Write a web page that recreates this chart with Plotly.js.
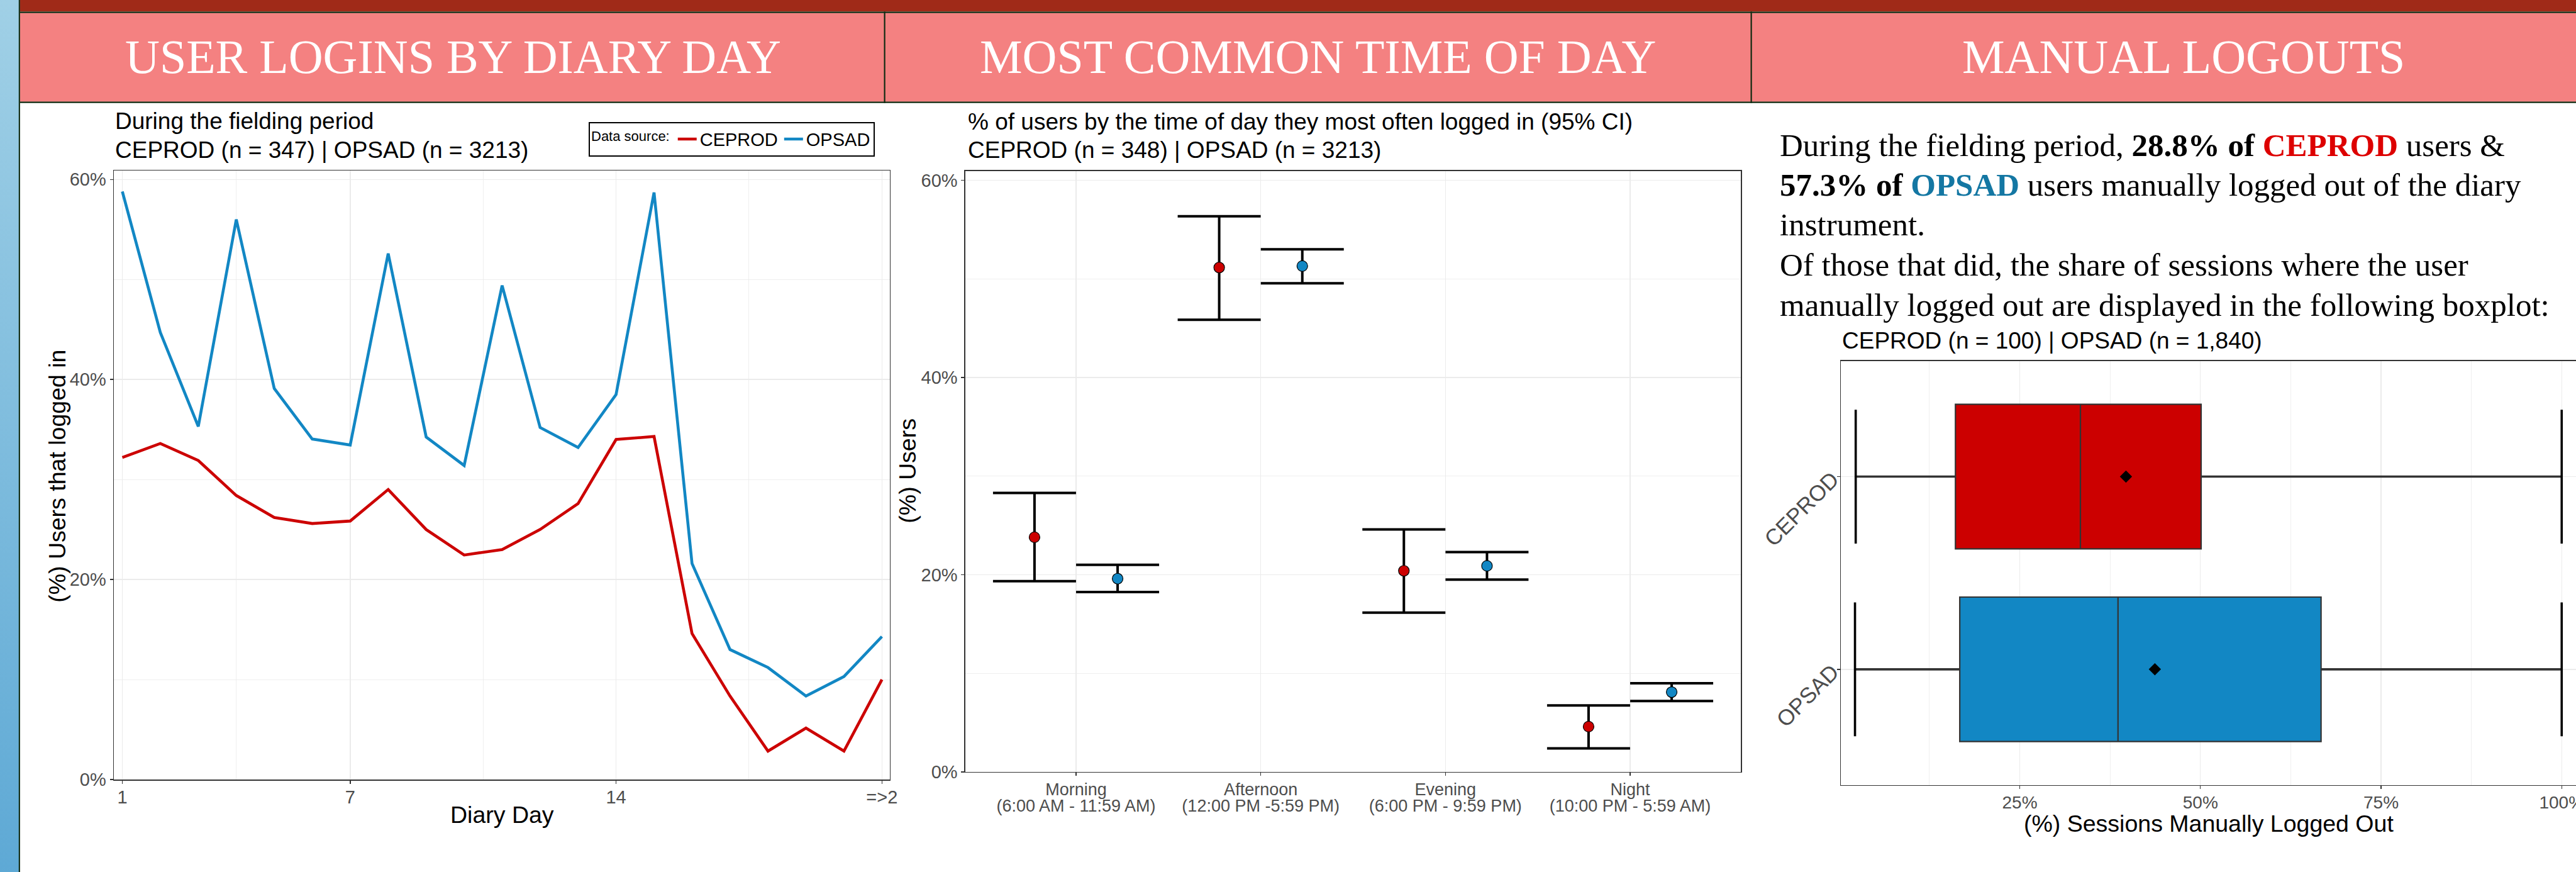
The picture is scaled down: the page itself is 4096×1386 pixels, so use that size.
<!DOCTYPE html>
<html>
<head>
<meta charset="utf-8">
<script src="https://cdn.plot.ly/plotly-3.0.1.min.js"></script>
<style>
html, body { margin: 0; padding: 0; background: #ffffff; overflow: hidden; }
#strip { position: absolute; left: 0; top: 0; width: 30px; height: 1386px;
         background: linear-gradient(#a0d0e6, #5ea9d5); }
#chart { position: absolute; left: 0; top: 0; width: 4096px; height: 1386px; }
</style>
</head>
<body>
<div id="strip"></div>
<div id="chart"></div>
<script>
// ---------------- DATA ----------------
// Panel 1: user logins by diary day (%)
const diaryDays = [1,2,3,4,5,6,7,8,9,10,11,12,13,14,15,16,17,18,19,20,21];
const ceprodLogins = [32.2,33.6,31.9,28.4,26.2,25.6,25.85,29.0,25.0,22.45,23.0,25.0,27.6,34.0,34.3,14.6,8.35,2.85,5.15,2.85,10.0];
const opsadLogins  = [58.8,44.7,35.3,56.0,39.1,34.05,33.45,52.6,34.25,31.4,49.4,35.2,33.2,38.5,58.7,21.6,13.0,11.2,8.35,10.3,14.3];
const dayTickVals = [1, 7, 14, 21];
const dayTickText = ['1', '7', '14', '=>2'];
const pctTickVals = [0, 20, 40, 60];
const pctTickText = ['0%', '20%', '40%', '60%'];

// Panel 2: most common time of day (%), with 95% CI
const timeNames  = ['Morning', 'Afternoon', 'Evening', 'Night'];
const timeRanges = ['(6:00 AM - 11:59 AM)', '(12:00 PM -5:59 PM)', '(6:00 PM - 9:59 PM)', '(10:00 PM - 5:59 AM)'];
const ceprodTime   = [23.8, 51.15, 20.4, 4.6];
const ceprodTimeHi = [28.3, 56.35, 24.6, 6.75];
const ceprodTimeLo = [19.35, 45.85, 16.15, 2.4];
const opsadTime    = [19.6, 51.3, 20.9, 8.1];
const opsadTimeHi  = [21.0, 53.0, 22.3, 9.0];
const opsadTimeLo  = [18.25, 49.55, 19.5, 7.2];

// Panel 3: share of sessions manually logged out (%)
const boxGroups     = ['CEPROD', 'OPSAD'];
const boxLowerFence = [2.3, 2.2];
const boxQ1         = [16.1, 16.7];
const boxMedian     = [33.4, 38.6];
const boxQ3         = [50.1, 66.7];
const boxUpperFence = [100, 100];
const boxMean       = [39.7, 43.7];
const boxTickVals = [25, 50, 75, 100];
const boxTickText = ['25%', '50%', '75%', '100%'];

// ---------------- STYLE / LAYOUT ----------------
const W = 4096, H = 1386;
const P = x => x / W;          // px -> paper x
const Q = y => 1 - y / H;      // px -> paper y
const RED = '#cc0000', BLUE = '#1287c4';
const SANS = 'Liberation Sans, Arial, sans-serif';
const SERIF = 'Liberation Serif, Times New Roman, serif';
const GRID = '#ebebeb';
const TICKFONT = {family: SANS, size: 29, color: '#4d4d4d'};
const CATFONT = {family: SANS, size: 27, color: '#4d4d4d'};

const axisBase = {
  showline: true, linecolor: '#333333', linewidth: 1.4, mirror: true,
  ticks: 'outside', ticklen: 5, tickwidth: 1.4, tickcolor: '#333333',
  tickfont: TICKFONT,
  showgrid: true, gridcolor: GRID, gridwidth: 1.4, zeroline: false,
  fixedrange: true, automargin: false
};
const minorGrid = vals => ({tickmode: 'array', tickvals: vals, showgrid: true,
                            gridcolor: GRID, gridwidth: 0.8, ticks: ''});

const dodge = 0.225;
const catIdx = timeNames.map((_, i) => i);
const boxFills = [RED, BLUE];

const traces = [
  // Panel 1
  {type: 'scatter', mode: 'lines', x: diaryDays, y: ceprodLogins, name: 'CEPROD',
   line: {color: RED, width: 4.6}, xaxis: 'x', yaxis: 'y', hoverinfo: 'skip'},
  {type: 'scatter', mode: 'lines', x: diaryDays, y: opsadLogins, name: 'OPSAD',
   line: {color: BLUE, width: 4.6}, xaxis: 'x', yaxis: 'y', hoverinfo: 'skip'},
  // Panel 2
  {type: 'scatter', mode: 'markers', x: catIdx.map(i => i - dodge), y: ceprodTime,
   error_y: {type: 'data', symmetric: false, array: ceprodTimeHi.map((h, i) => h - ceprodTime[i]),
             arrayminus: ceprodTime.map((m, i) => m - ceprodTimeLo[i]),
             color: '#000000', thickness: 4, width: 66},
   marker: {size: 17, color: RED, line: {color: '#000000', width: 1.2}},
   xaxis: 'x2', yaxis: 'y2', showlegend: false, hoverinfo: 'skip'},
  {type: 'scatter', mode: 'markers', x: catIdx.map(i => i + dodge), y: opsadTime,
   error_y: {type: 'data', symmetric: false, array: opsadTimeHi.map((h, i) => h - opsadTime[i]),
             arrayminus: opsadTime.map((m, i) => m - opsadTimeLo[i]),
             color: '#000000', thickness: 4, width: 66},
   marker: {size: 17, color: BLUE, line: {color: '#000000', width: 1.2}},
   xaxis: 'x2', yaxis: 'y2', showlegend: false, hoverinfo: 'skip'},
  // empty trace so the second-line tick axis of panel 2 exists
  {type: 'scatter', mode: 'markers', x: [], y: [], xaxis: 'x4', yaxis: 'y2',
   showlegend: false, hoverinfo: 'skip'}
];

// Panel 3: whiskers (thick), whisker caps, boxes, means
boxGroups.forEach((g, i) => {
  traces.push({type: 'scatter', mode: 'lines',
    x: [boxLowerFence[i], boxQ1[i], null, boxQ3[i], boxUpperFence[i]], y: [g, g, null, g, g],
    line: {color: '#333333', width: 3.6}, xaxis: 'x3', yaxis: 'y3', showlegend: false, hoverinfo: 'skip'});
  traces.push({type: 'scatter', mode: 'markers',
    x: [boxLowerFence[i], boxUpperFence[i]], y: [g, g],
    marker: {symbol: 'line-ns', size: 152, color: '#000000', line: {color: '#000000', width: 3.6}},
    xaxis: 'x3', yaxis: 'y3', showlegend: false, hoverinfo: 'skip'});
  traces.push({type: 'box', orientation: 'h', y: [g], q1: [boxQ1[i]], median: [boxMedian[i]],
    q3: [boxQ3[i]], lowerfence: [boxLowerFence[i]], upperfence: [boxUpperFence[i]],
    fillcolor: boxFills[i], line: {color: '#333333', width: 2.2}, width: 0.75, whiskerwidth: 0,
    boxpoints: false, xaxis: 'x3', yaxis: 'y3', showlegend: false, hoverinfo: 'skip'});
});
traces.push({type: 'scatter', mode: 'markers', x: boxMean, y: boxGroups,
  marker: {symbol: 'diamond', size: 15, color: '#000000'},
  xaxis: 'x3', yaxis: 'y3', showlegend: false, hoverinfo: 'skip'});

const DARK = '#0f2a10';
const shapes = [
  {type: 'rect', xref: 'paper', yref: 'paper', x0: P(31.9), x1: 1, y0: Q(0), y1: Q(18.4),
   fillcolor: '#a02a18', line: {width: 0}},
  {type: 'rect', xref: 'paper', yref: 'paper', x0: P(31.9), x1: 1, y0: Q(20.6), y1: Q(161.7),
   fillcolor: '#f48181', line: {width: 0}},
  {type: 'rect', xref: 'paper', yref: 'paper', x0: P(31.9), x1: 1, y0: Q(18.4), y1: Q(20.8),
   fillcolor: DARK, line: {width: 0}},
  {type: 'rect', xref: 'paper', yref: 'paper', x0: P(31.9), x1: 1, y0: Q(161.5), y1: Q(163.7),
   fillcolor: DARK, line: {width: 0}},
  {type: 'rect', xref: 'paper', yref: 'paper', x0: P(1405.5), x1: P(1407.7), y0: Q(18.4), y1: Q(163.7),
   fillcolor: DARK, line: {width: 0}},
  {type: 'rect', xref: 'paper', yref: 'paper', x0: P(2783.5), x1: P(2785.7), y0: Q(18.4), y1: Q(163.7),
   fillcolor: DARK, line: {width: 0}},
  {type: 'rect', xref: 'paper', yref: 'paper', x0: P(29.8), x1: P(31.9), y0: 0, y1: 1,
   fillcolor: DARK, line: {width: 0}}
];

const ann = (text, x, y, size, opts = {}) => Object.assign({
  text: text, xref: 'paper', yref: 'paper', x: P(x), y: Q(y), showarrow: false,
  xanchor: 'left', yanchor: 'middle', font: {family: SANS, size: size, color: '#000000'}
}, opts);

const headerFont = {family: SERIF, size: 76, color: '#ffffff'};
const paraFont = {family: SERIF, size: 51, color: '#000000'};
const CEP = '<b><span style="color:#dd0000">CEPROD</span></b>';
const OPS = '<b><span style="color:#1477a3">OPSAD</span></b>';

const annotations = [
  ann('USER LOGINS BY DIARY DAY', 720.6, 90.4, 76, {xanchor: 'center', font: headerFont}),
  ann('MOST COMMON TIME OF DAY', 2095.5, 90.4, 76, {xanchor: 'center', font: headerFont}),
  ann('MANUAL LOGOUTS', 3471.5, 90.4, 76, {xanchor: 'center', font: headerFont}),
  ann('During the fielding period', 180.9, 192.2, 37),
  ann('CEPROD (n = 347) | OPSAD (n = 3213)', 180.9, 238, 37),
  ann('% of users by the time of day they most often logged in (95% CI)', 1537, 193.6, 37),
  ann('CEPROD (n = 348) | OPSAD (n = 3213)', 1537, 239, 37),
  ann('CEPROD (n = 100) | OPSAD (n = 1,840)', 2927, 541, 37),
  ann('(%) Users that logged in', 90.8, 757, 37.5, {xanchor: 'center', textangle: -90}),
  ann('Diary Day', 798, 1294.5, 37.5, {xanchor: 'center'}),
  ann('(%) Users', 1442.7, 748, 37.5, {xanchor: 'center', textangle: -90}),
  ann('(%) Sessions Manually Logged Out', 3512, 1309, 37.5, {xanchor: 'center'}),
  ann('During the fielding period, <b>28.8% of</b> ' + CEP + ' users &amp;', 2828, 230.8, 51, {font: paraFont}),
  ann('<b>57.3% of</b> ' + OPS + ' users manually logged out of the diary', 2828, 293.5, 51, {font: paraFont}),
  ann('instrument.', 2828, 356.6, 51, {font: paraFont}),
  ann('Of those that did, the share of sessions where the user', 2828, 420.9, 51, {font: paraFont}),
  ann('manually logged out are displayed in the following boxplot:', 2828, 484.5, 51, {font: paraFont})
];

const layout = {
  width: W, height: H, autosize: false,
  margin: {l: 0, r: 0, t: 0, b: 0, pad: 0},
  paper_bgcolor: 'rgba(0,0,0,0)', plot_bgcolor: '#ffffff',
  font: {family: SANS, color: '#000000'},
  boxmode: 'overlay',
  showlegend: true,
  legend: {orientation: 'h', x: P(936), xanchor: 'left', y: Q(193.6), yanchor: 'top',
           bordercolor: '#000000', borderwidth: 2, bgcolor: '#ffffff',
           font: {family: SANS, size: 29, color: '#000000'},
           title: {text: 'Data source:', side: 'left', font: {family: SANS, size: 22, color: '#000000'}}},
  xaxis: Object.assign({}, axisBase, {domain: [P(180.9), P(1415.0)], range: [0.7745, 21.21],
          tickmode: 'array', tickvals: dayTickVals, ticktext: dayTickText, ticklabelstandoff: -3,
          minor: minorGrid([4, 10.5, 17.5]), anchor: 'y'}),
  yaxis: Object.assign({}, axisBase, {domain: [Q(1239.1), Q(270.9)], range: [0, 60.9],
          tickmode: 'array', tickvals: pctTickVals, ticktext: pctTickText,
          minor: minorGrid([10, 30, 50]), anchor: 'x'}),
  xaxis2: Object.assign({}, axisBase, {domain: [P(1534.8), P(2768.2)], range: [-0.6, 3.6],
          tickmode: 'array', tickvals: catIdx, ticktext: timeNames, tickfont: CATFONT,
          ticklabelstandoff: -2, anchor: 'y2'}),
  xaxis4: {overlaying: 'x2', anchor: 'y2', side: 'bottom', range: [-0.6, 3.6],
          tickmode: 'array', tickvals: catIdx, ticktext: timeRanges, tickfont: CATFONT,
          showline: false, showgrid: false, zeroline: false, ticks: '',
          ticklabelstandoff: 35, fixedrange: true, automargin: false},
  yaxis2: Object.assign({}, axisBase, {domain: [Q(1227.0), Q(271.6)], range: [0, 60.95],
          tickmode: 'array', tickvals: pctTickVals, ticktext: pctTickText,
          minor: minorGrid([10, 30, 50]), anchor: 'x2'}),
  xaxis3: Object.assign({}, axisBase, {domain: [P(2927.1), 1], range: [0.247, 101.98],
          tickmode: 'array', tickvals: boxTickVals, ticktext: boxTickText,
          tickfont: {family: SANS, size: 28, color: '#4d4d4d'}, ticklabelstandoff: -3,
          ticklabeloverflow: 'allow', minor: minorGrid([12.5, 37.5, 62.5, 87.5]), anchor: 'y3'}),
  yaxis3: Object.assign({}, axisBase, {domain: [Q(1247.6), Q(573.8)], type: 'category',
          categoryorder: 'array', categoryarray: ['OPSAD', 'CEPROD'], range: [-0.6, 1.6],
          tickangle: -45, mirror: false,
          tickfont: {family: SANS, size: 35, color: '#4d4d4d'}, anchor: 'x3'}),
  shapes: shapes,
  annotations: annotations
};

Plotly.newPlot('chart', traces, layout, {staticPlot: true, displayModeBar: false});
</script>
</body>
</html>
